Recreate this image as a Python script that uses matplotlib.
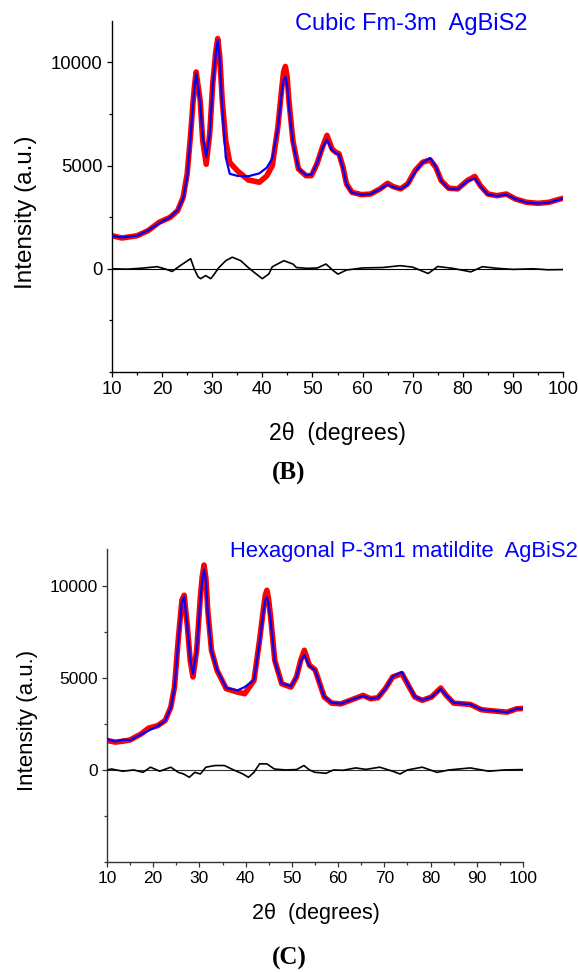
import numpy as np
import matplotlib
matplotlib.use("Agg")
import matplotlib.pyplot as plt
from matplotlib.ticker import MultipleLocator, FixedLocator

plt.rcParams['font.family'] = ['Liberation Sans', 'DejaVu Sans']

# ---- panel B : cubic Fm-3m fit ----
xB = [10, 12, 15, 17.2, 19.4, 21.6, 23.1, 24.2, 25, 25.7,
      26.2, 26.5, 26.8, 27.1, 27.6, 28.1, 28.8, 29.5, 30.1, 30.7,
      31.1, 31.5, 32, 32.7, 33.5, 35, 37.2, 39.4, 40.9, 42,
      43.1, 43.9, 44.25, 44.6, 44.95, 45.3, 46.1, 47.2, 48.7, 49.8,
      50.9, 52, 52.9, 53.9, 54.6, 55.3, 56.1, 56.8, 57.9, 59.8,
      61.6, 63.5, 65, 66.1, 67.6, 69, 70.5, 72, 73.5, 74.6,
      75.7, 77.2, 79, 80.9, 82.4, 83.5, 85, 86.8, 88.7, 90.5,
      92.7, 95, 97.2, 98.7, 100]
obsB = [1600, 1490, 1600, 1845, 2250, 2490, 2815, 3460, 4600, 6540,
        8150, 8950, 9530, 9000, 8150, 6210, 5060, 6540, 8960, 10500,
        11150, 10300, 8150, 6200, 5150, 4750, 4300, 4190, 4500, 5000,
        6860, 8800, 9550, 9800, 9300, 8150, 6210, 4840, 4510, 4510,
        5080, 5890, 6460, 5810, 5650, 5570, 4920, 4110, 3700, 3590,
        3620, 3870, 4140, 3980, 3870, 4110, 4760, 5160, 5270, 4920,
        4270, 3900, 3870, 4270, 4470, 4030, 3620, 3540, 3620, 3380,
        3220, 3170, 3220, 3330, 3410]
calcB = [1580, 1520, 1600, 1860, 2200, 2500, 2850, 3400, 4450, 6450,
         8100, 8850, 9450, 8950, 8000, 6400, 5420, 6500, 8850, 10400,
         11070, 10150, 7800, 5400, 4600, 4500, 4480, 4620, 4900, 5350,
         6800, 8600, 9150, 9290, 8900, 7900, 6100, 4850, 4530, 4560,
         5100, 5850, 6250, 5750, 5620, 5520, 4850, 4080, 3680, 3590,
         3620, 3860, 4080, 3960, 3860, 4080, 4700, 5150, 5360, 4950,
         4250, 3870, 3850, 4240, 4380, 4000, 3600, 3520, 3590, 3380,
         3210, 3160, 3200, 3310, 3400]
dxB = [10, 13, 16, 19, 20.5, 22, 23.9, 25.7, 26.4, 27.2,
       27.7, 28.7, 29.7, 30.3, 31.3, 32.7, 34, 35.7, 37, 38.5,
       40, 41.3, 42, 44.3, 46.1, 46.8, 49, 51, 52.7, 54.2,
       55.1, 56.8, 60, 64, 67.5, 70, 73.1, 75, 78, 81.6,
       83.9, 87, 90, 94, 97, 100]
dB = [0, -20, 30, 100, 0, -130, 200, 490, 0, -400,
      -480, -330, -480, -300, 50, 390, 560, 390, 100, -200,
      -480, -250, 100, 390, 230, 60, 20, 40, 230, -100,
      -260, -60, 40, 60, 150, 80, -230, 110, 20, -150,
      100, 20, -30, 0, -50, -40]

# ---- panel C : hexagonal P-3m1 fit ----
xC = [10, 11.8, 13.4, 15, 17.4, 19, 21, 22.6, 23.8, 24.6,
      25.4, 26.2, 26.7, 27.4, 28, 28.6, 29.4, 30.2, 30.6, 31,
      31.4, 31.8, 32.6, 33.8, 35.8, 38.2, 39.8, 41.8, 43, 43.9,
      44.25, 44.6, 44.95, 45.4, 46.3, 47.8, 49.8, 51, 51.9, 52.7,
      53.8, 55, 55.8, 57, 58.6, 60.6, 62.6, 65.4, 67, 68.6,
      70.2, 71.8, 73.8, 75, 76.6, 78.2, 80.2, 82.2, 83.4, 85,
      87, 88.6, 91, 94.2, 96.6, 98.6, 100]
obsC = [1600, 1510, 1560, 1630, 1960, 2270, 2410, 2690, 3410, 4500,
        7040, 9220, 9490, 7770, 5950, 5050, 6500, 9400, 10500, 11130,
        10400, 8680, 6500, 5410, 4410, 4230, 4140, 4860, 7040, 8860,
        9500, 9760, 9300, 8310, 5950, 4680, 4500, 5050, 5950, 6500,
        5680, 5450, 4860, 3960, 3630, 3590, 3780, 4050, 3870, 3920,
        4410, 5050, 5230, 4680, 3960, 3780, 3960, 4450, 4050, 3630,
        3590, 3560, 3270, 3190, 3140, 3320, 3340]
calcC = [1680, 1540, 1640, 1620, 1930, 2140, 2380, 2680, 3380, 4450,
         6900, 9100, 9400, 7700, 6000, 5230, 6450, 9200, 10300, 10890,
         10250, 8500, 6450, 5450, 4450, 4320, 4500, 4900, 6900, 8700,
         9250, 9370, 9050, 8100, 5900, 4700, 4550, 5050, 5900, 6230,
         5650, 5420, 4850, 3980, 3650, 3600, 3790, 4020, 3880, 3930,
         4400, 5080, 5320, 4700, 3980, 3800, 3960, 4400, 4050, 3650,
         3600, 3570, 3280, 3200, 3130, 3320, 3340]
dxC = [10, 11, 13.4, 15.8, 17.8, 19.4, 21.4, 23.8, 25.4, 26.6,
       27.8, 29, 30.2, 31.4, 33.4, 35.4, 37.4, 39.4, 40.6, 41.8,
       43, 44.6, 46.2, 48.6, 51, 52.6, 53.8, 55, 57.4, 59,
       61, 63.8, 66, 69, 71.8, 73.4, 75, 78.2, 81.4, 84,
       88.6, 92.6, 96, 100]
dC = [0, 50, -70, 0, -130, 150, -70, 150, -130, -220,
      -400, -130, -220, 150, 240, 240, 0, -220, -400, -130,
      330, 330, 50, 0, 20, 240, 0, -130, -180, 0,
      -20, 110, 30, 150, -70, -220, 0, 150, -130, 0,
      110, -70, 0, 20]

W, H = 578, 972
fig = plt.figure(figsize=(W / 100, H / 100), dpi=100)


def px_box(l, t, r, b):
    return [l / W, 1 - b / H, (r - l) / W, (b - t) / H]


def panel(ax, x, obs, calc, dx, d, spine_col, tsize):
    ax.plot([10, 100], [0, 0], color=spine_col, lw=0.8, zorder=1)
    ax.plot(x, obs, color='#ff0000', lw=4.0, solid_joinstyle='round', zorder=2)
    ax.plot(x, calc, color='#0000ff', lw=1.6, zorder=3)
    ax.plot(dx, d, color='black', lw=1.2, zorder=3)
    ax.set_xlim(10, 100)
    ax.set_ylim(-5000, 12000)
    for s in ['top', 'right']:
        ax.spines[s].set_visible(False)
    for s in ['left', 'bottom']:
        ax.spines[s].set_color(spine_col)
        ax.spines[s].set_linewidth(1.0)
    ax.xaxis.set_major_locator(MultipleLocator(10))
    ax.xaxis.set_minor_locator(MultipleLocator(5))
    ax.yaxis.set_major_locator(FixedLocator([0, 5000, 10000]))
    ax.yaxis.set_minor_locator(MultipleLocator(2500))
    ax.tick_params(which='major', direction='out', length=3.6, width=0.9,
                   color=spine_col, labelsize=tsize, pad=3)
    ax.tick_params(which='minor', direction='out', length=2.2, width=0.9,
                   color=spine_col)


axB = fig.add_axes(px_box(112, 21, 563, 372))
panel(axB, xB, obsB, calcB, dxB, dB, 'black', 13.3)
axC = fig.add_axes(px_box(107, 549, 523, 862))
panel(axC, xC, obsC, calcC, dxC, dC, '#333333', 12.5)


def ftext(x, y, s, **kw):
    fig.text(x / W, 1 - y / H, s, ha='center', va='center', **kw)


ftext(411, 24, 'Cubic Fm-3m  AgBiS2', color='#0000ff', fontsize=17)
ftext(404, 552, 'Hexagonal P-3m1 matildite  AgBiS2', color='#0000ff', fontsize=15.8)
ftext(26, 212, 'Intensity (a.u.)', rotation=90, fontsize=17.5)
ftext(27, 720, 'Intensity (a.u.)', rotation=90, fontsize=16)
ftext(337, 433, '2\u03b8  (degrees)', fontsize=16.6)
ftext(316, 913, '2\u03b8  (degrees)', fontsize=15.5)
ftext(289, 473, '(B)', fontsize=18, fontweight='bold', family='Liberation Serif')
ftext(289, 958, '(C)', fontsize=18, fontweight='bold', family='Liberation Serif')

fig.savefig('out.png', dpi=100)
